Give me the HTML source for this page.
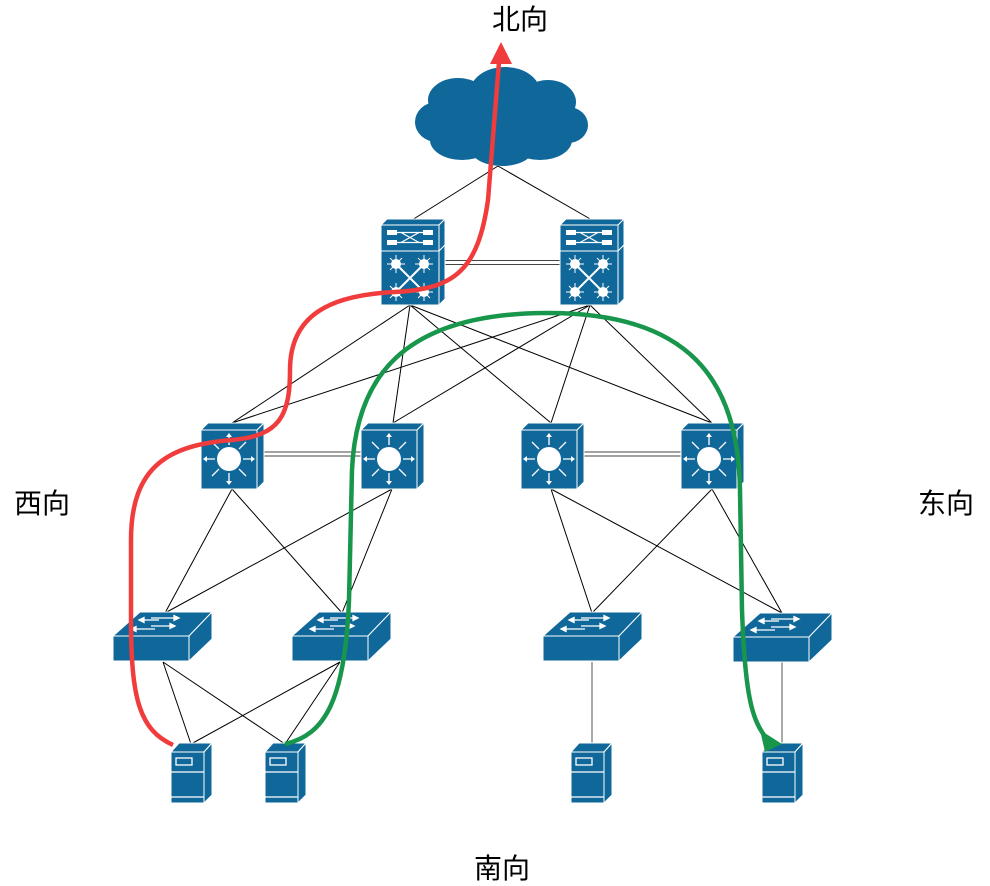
<!DOCTYPE html>
<html><head><meta charset="utf-8"><style>
html,body{margin:0;padding:0;background:#fff;}
svg{display:block;}
text{font-family:"Liberation Sans","Noto Sans CJK SC",sans-serif;font-size:28px;fill:#000;}
</style></head><body>
<svg width="990" height="886" viewBox="0 0 990 886" xmlns="http://www.w3.org/2000/svg">
<defs>
  <g id="core">
    <polygon points="0,6 6,0 64,0 58,6" fill="#10679a" stroke="#fff" stroke-width="1"/>
    <rect x="0" y="6" width="58" height="26" fill="#10679a" stroke="#fff" stroke-width="1"/>
    <polygon points="58,6 64,0 64,26 58,32" fill="#10679a" stroke="#fff" stroke-width="1"/>
    <rect x="6" y="11" width="10" height="5" fill="#fff"/><rect x="42" y="11" width="10" height="5" fill="#fff"/>
    <rect x="6" y="21" width="10" height="5" fill="#fff"/><rect x="42" y="21" width="10" height="5" fill="#fff"/>
    <path d="M16,13.5 H42 M16,23.5 H42 M20,13.5 L38,23.5 M20,23.5 L38,13.5" stroke="#fff" stroke-width="1.2"/>
    <rect x="0" y="32" width="58" height="54" fill="#10679a" stroke="#fff" stroke-width="1"/>
    <polygon points="58,32 64,26 64,80 58,86" fill="#10679a" stroke="#fff" stroke-width="1"/>
    <path d="M15,45 L43,73 M43,45 L15,73" stroke="#fff" stroke-width="2"/>
    <g fill="#fff"><circle cx="15" cy="45" r="5"/><circle cx="43" cy="45" r="5"/><circle cx="15" cy="73" r="5"/><circle cx="43" cy="73" r="5"/></g>
    <g stroke="#fff" stroke-width="1">
      <path d="M15,36 V54 M6,45 H24 M9,39 L21,51 M21,39 L9,51"/>
      <path d="M43,36 V54 M34,45 H52 M37,39 L49,51 M49,39 L37,51"/>
      <path d="M15,64 V82 M6,73 H24 M9,67 L21,79 M21,67 L9,79"/>
      <path d="M43,64 V82 M34,73 H52 M37,67 L49,79 M49,67 L37,79"/>
    </g>
  </g>
  <g id="dist">
    <polygon points="0,7 7,0 63,0 56,7" fill="#10679a" stroke="#fff" stroke-width="1"/>
    <rect x="0" y="7" width="56" height="59" fill="#10679a" stroke="#fff" stroke-width="1"/>
    <polygon points="56,7 63,0 63,59 56,66" fill="#10679a" stroke="#fff" stroke-width="1"/>
    <circle cx="28" cy="36" r="12" fill="#fff"/>
    <g stroke="#fff" stroke-width="1.3">
      <path d="M28,22 V12 M28,50 V60 M14,36 H4 M42,36 H52 M18,26 L11,19 M38,26 L45,19 M18,46 L11,53 M38,46 L45,53"/>
    </g>
    <g fill="#fff">
      <polygon points="28,10 25,14 31,14"/><polygon points="28,62 25,58 31,58"/>
      <polygon points="2,36 6,33 6,39"/><polygon points="54,36 50,33 50,39"/>
    </g>
  </g>
  <g id="acc">
    <polygon points="0,24 27,0 99,0 76,24" fill="#10679a" stroke="#fff" stroke-width="1"/>
    <rect x="0" y="24" width="76" height="25" fill="#10679a" stroke="#fff" stroke-width="1"/>
    <polygon points="76,24 99,0 99,27 76,49" fill="#10679a" stroke="#fff" stroke-width="1"/>
    <g stroke="#fff" stroke-width="1.3" fill="#fff">
      <path d="M38,6 H62"/><polygon points="66,6 61,3.5 61,8.5"/>
      <path d="M30,8 H46"/><polygon points="26,8 31,5.5 31,10.5"/>
      <path d="M38,14 H58"/><polygon points="62,14 57,11.5 57,16.5"/>
      <path d="M22,17 H42"/><polygon points="18,17 23,14.5 23,19.5"/>
    </g>
  </g>
  <g id="srv">
    <polygon points="0,9 8,0 41,0 33,9" fill="#10679a" stroke="#fff" stroke-width="1"/>
    <rect x="0" y="9" width="33" height="51" fill="#10679a" stroke="#fff" stroke-width="1"/>
    <polygon points="33,9 41,0 41,52 33,60" fill="#10679a" stroke="#fff" stroke-width="1"/>
    <rect x="5" y="15" width="16" height="7" fill="none" stroke="#fff" stroke-width="1.3"/>
    <path d="M0,29 H33 M0,54 H33" stroke="#fff" stroke-width="1.3"/>
  </g>
</defs>

<g stroke="#000" stroke-width="1" fill="none">
  <path d="M498,166 L412,220 M498,166 L592,220"/>
  <path d="M410,305 L232,423 M410,305 L393,423 M410,305 L551,423 M410,305 L712,423"/>
  <path d="M590,305 L232,423 M590,305 L393,423 M590,305 L551,423 M590,305 L712,423"/>
  <path d="M232,489 L165,613 M232,489 L342,613 M392,489 L165,613 M392,489 L342,613"/>
  <path d="M551,489 L592,613 M551,489 L782,613 M712,489 L592,613 M712,489 L782,613"/>
  <path d="M163,662 L191,744 M163,662 L285,744 M340,662 L191,744 M340,662 L285,744"/>
  <path d="M592,662 L592,744 M782,662 L782,744" stroke="#555"/>
  <path d="M445,260.5 H561 M445,264.5 H561" stroke="#444"/>
  <path d="M264,452 H361 M264,456 H361" stroke="#444"/>
  <path d="M584,452 H681 M584,456 H681" stroke="#444"/>
</g>

<g fill="#10679a">
  <ellipse cx="502" cy="122" rx="70" ry="38"/>
  <ellipse cx="458" cy="100" rx="30" ry="22"/>
  <ellipse cx="505" cy="92" rx="35" ry="25"/>
  <ellipse cx="548" cy="102" rx="28" ry="22"/>
  <ellipse cx="437" cy="122" rx="22" ry="20"/>
  <ellipse cx="568" cy="125" rx="20" ry="18"/>
  <ellipse cx="462" cy="140" rx="32" ry="20"/>
  <ellipse cx="540" cy="140" rx="32" ry="20"/>
  <ellipse cx="502" cy="148" rx="32" ry="18"/>
</g>

<use href="#core" x="381" y="219"/>
<use href="#core" x="560" y="219"/>
<use href="#dist" x="201" y="423"/>
<use href="#dist" x="361" y="423"/>
<use href="#dist" x="521" y="423"/>
<use href="#dist" x="681" y="423"/>
<use href="#acc" x="113" y="612"/>
<use href="#acc" x="292" y="612"/>
<use href="#acc" x="543" y="612"/>
<use href="#acc" x="733" y="613"/>
<use href="#srv" x="171" y="743"/>
<use href="#srv" x="265" y="743"/>
<use href="#srv" x="571" y="743"/>
<use href="#srv" x="762" y="743"/>

<path d="M173,745 C140,730 131,700 131,620 L131,540 C131,465 170,445 232,440 C280,436 290,415 290,370 C290,315 330,295 395,292 C455,289 478,270 488,200 L499,62" fill="none" stroke="#f03c3c" stroke-width="4.5"/>
<polygon points="501,42 490,64 512,64" fill="#f03c3c"/>
<path d="M285,744 C325,735 345,700 349,600 L352,470 C356,380 400,314 545,313 C690,312 738,380 740,490 L742,610 C745,695 752,718 764,735" fill="none" stroke="#17964c" stroke-width="4.5"/>
<polygon points="782,744 760,730 765,752" fill="#17964c"/>

<text x="520" y="29" text-anchor="middle">北向</text>
<text x="42" y="513" text-anchor="middle">西向</text>
<text x="946" y="513" text-anchor="middle">东向</text>
<text x="502" y="878" text-anchor="middle">南向</text>
</svg>
</body></html>
